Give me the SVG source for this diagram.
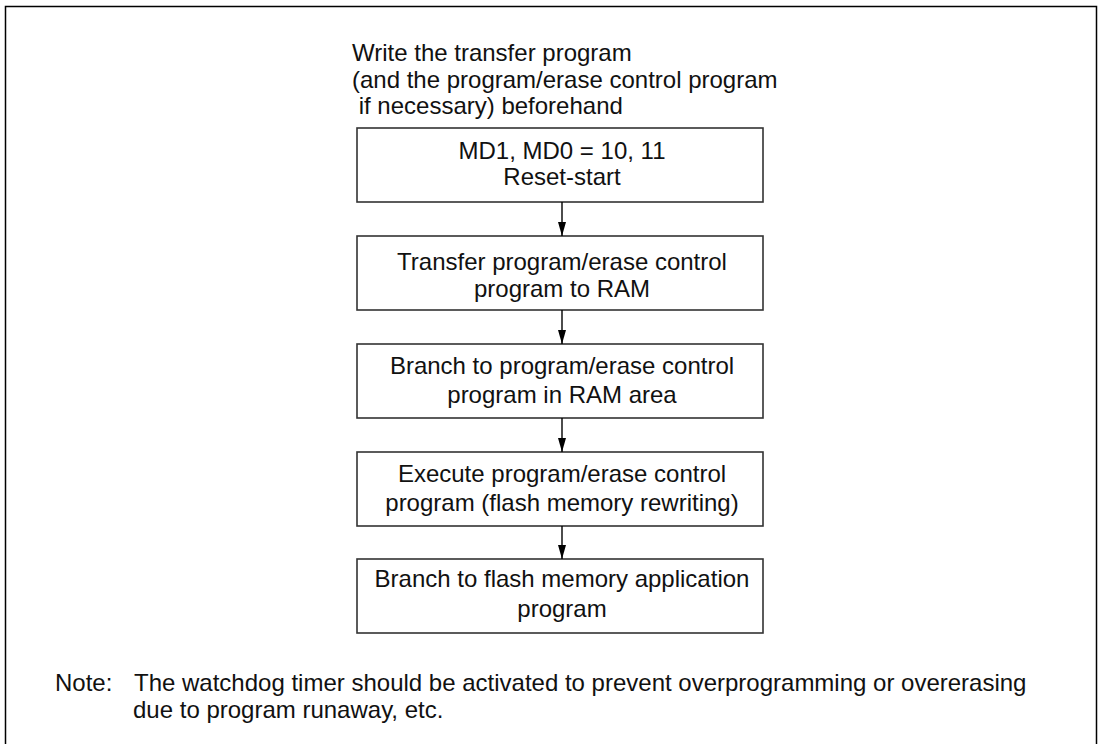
<svg xmlns="http://www.w3.org/2000/svg" width="1098" height="744" viewBox="0 0 1098 744">
<style>
text{font-family:"Liberation Sans",Arial,sans-serif;font-size:24px;fill:#111}
.c{text-anchor:middle}
.box{fill:#fff;stroke:#333;stroke-width:1.6}
.frame{fill:none;stroke:#000;stroke-width:1.5}
.conn{stroke:#000;stroke-width:1.4;fill:none}
</style>
<defs>
<marker id="ah" viewBox="0 0 8 14" refX="8" refY="4" markerWidth="8" markerHeight="14" markerUnits="userSpaceOnUse" orient="auto">
<path d="M0,0 L14,4 L0,8 Z" fill="#000"/>
</marker>
</defs>
<path class="frame" d="M5.5,744 V6.5 H1096.5 V744"/>
<g id="header">
<text x="352" y="61">Write the transfer program</text>
<text x="352" y="88">(and the program/erase control program</text>
<text x="352" y="114" xml:space="preserve"> if necessary) beforehand</text>
</g>
<g id="node1">
<rect class="box" x="357" y="128" width="406" height="74"/>
<text class="c" x="562" y="159">MD1, MD0 = 10, 11</text>
<text class="c" x="562" y="185">Reset-start</text>
</g>
<g id="node2">
<rect class="box" x="357" y="236" width="406" height="74"/>
<text class="c" x="562" y="270">Transfer program/erase control</text>
<text class="c" x="562" y="297">program to RAM</text>
</g>
<g id="node3">
<rect class="box" x="357" y="344" width="406" height="74"/>
<text class="c" x="562" y="374">Branch to program/erase control</text>
<text class="c" x="562" y="403">program in RAM area</text>
</g>
<g id="node4">
<rect class="box" x="357" y="452" width="406" height="74"/>
<text class="c" x="562" y="482">Execute program/erase control</text>
<text class="c" x="562" y="511">program (flash memory rewriting)</text>
</g>
<g id="node5">
<rect class="box" x="357" y="559" width="406" height="74"/>
<text class="c" x="562" y="587">Branch to flash memory application</text>
<text class="c" x="562" y="617">program</text>
</g>
<g id="connectors">
<path class="conn" d="M562,202 V236"/>
<path d="M558,222 L566,222 L562,236 Z" fill="#000"/>
<path class="conn" d="M562,310 V344"/>
<path d="M558,330 L566,330 L562,344 Z" fill="#000"/>
<path class="conn" d="M562,418 V452"/>
<path d="M558,438 L566,438 L562,452 Z" fill="#000"/>
<path class="conn" d="M562,526 V559"/>
<path d="M558,545 L566,545 L562,559 Z" fill="#000"/>
</g>
<g id="note">
<text x="55" y="691">Note:</text>
<text x="134" y="691">The watchdog timer should be activated to prevent overprogramming or overerasing</text>
<text x="133" y="718">due to program runaway, etc.</text>
</g>
</svg>
